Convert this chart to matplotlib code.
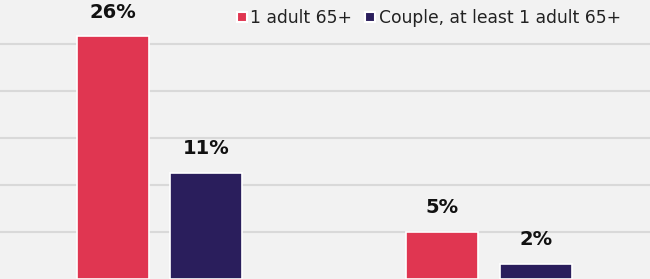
import numpy as np
import matplotlib
matplotlib.use("Agg")
import matplotlib.pyplot as plt
from matplotlib.lines import Line2D

# values (labels as shown)
groups = ["Group A", "Group B"]
single = [25.8, 5.0]
couple = [11.3, 1.6]
single_labels = ["26%", "5%"]
couple_labels = ["11%", "2%"]
series_names = ["1 adult 65+", "Couple, at least 1 adult 65+"]

red = "#e03651"
navy = "#2a1e5c"
bg = "#f2f2f2"

plt.rcParams['font.family'] = ['DejaVu Sans']

fig = plt.figure(figsize=(6.5, 2.79), dpi=100)
fig.patch.set_facecolor(bg)
ax = fig.add_axes([0, 0, 1, 1])
ax.set_facecolor(bg)

x = np.arange(len(groups))
w = 0.2185
off = 0.1419
b1 = ax.bar(x - off, single, w, color=red, edgecolor="white", linewidth=1.2, zorder=3)
b2 = ax.bar(x + off, couple, w, color=navy, edgecolor="white", linewidth=1.2, zorder=3)

for bars, labs in [(b1, single_labels), (b2, couple_labels)]:
    for rect, lab in zip(bars, labs):
        ax.annotate(lab, (rect.get_x() + rect.get_width() / 2, rect.get_height()),
                    xytext=(0, 10.5), textcoords="offset points", ha="center", va="bottom",
                    fontsize=14, fontweight="bold", color="#111111", zorder=4)

ax.set_xlim(-0.484, 1.489)
ax.set_ylim(0, 29.68)
ax.set_yticks([5, 10, 15, 20, 25])
ax.yaxis.grid(True, color="#d9d9d9", linewidth=1.5, zorder=0)
ax.tick_params(left=False, bottom=False, labelleft=False, labelbottom=False)
for s in ax.spines.values():
    s.set_visible(False)

handles = [Line2D([], [], marker="s", linestyle="none", markersize=7.5, markerfacecolor=c,
                  markeredgecolor="white", markeredgewidth=1.5) for c in (red, navy)]
ax.legend(handles, series_names, loc="upper right", bbox_to_anchor=(621 / 650, 1 - 9 / 279),
          frameon=False, ncol=2, fontsize=12.3, handlelength=0.6, handletextpad=0.2,
          columnspacing=0.75, borderpad=0, borderaxespad=0, labelcolor="#222222")

fig.savefig("out.png", dpi=100, facecolor=bg)
